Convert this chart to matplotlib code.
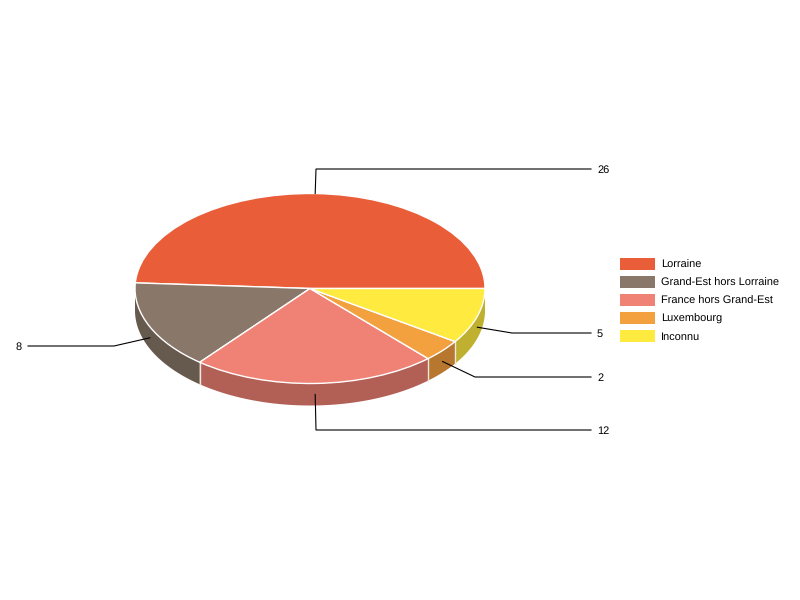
import numpy as np
import matplotlib
matplotlib.use("Agg")
import matplotlib.pyplot as plt
from matplotlib.patches import Patch

labels = ["Lorraine", "Grand-Est hors Lorraine", "France hors Grand-Est", "Luxembourg", "Inconnu"]
values = [26, 8, 12, 2, 5]
colors = ["#E95E38", "#89786A", "#EF8274", "#F3A03F", "#FFEA40"]
side_colors = ["#AD4629", "#66594E", "#B25F56", "#B8772F", "#BFB030"]

# pie geometry in pixels
CX, CY = 310, 288.5
RX, RY = 175, 95
DEPTH = 22

# elbow and end of each leader line, pixels
elbows = [(316, 169), (114, 346), (316, 430), (475, 377), (512, 333)]
line_ends = [591, 28, 591, 591, 591]

plt.rcParams["font.family"] = ["Liberation Sans", "DejaVu Sans"]
plt.rcParams["text.hinting"] = "no_hinting"
plt.rcParams["text.hinting_factor"] = 1

fig = plt.figure(figsize=(8, 6), dpi=100)
ax = fig.add_axes([0, 0, 1, 1])

wedges, _ = ax.pie(values, colors=colors, startangle=0, counterclock=True, radius=1,
                   wedgeprops={"edgecolor": "white", "linewidth": 1.0, "zorder": 5})
ax.set_aspect("auto")
ax.set_xlim(-CX / RX, (800 - CX) / RX)
ax.set_ylim(-(600 - CY) / RY, CY / RY)

depth = DEPTH / RY


def to_data(px, py):
    return (px - CX) / RX, (CY - py) / RY


# side walls, only the lower half of the rim shows
for i, w in enumerate(wedges):
    a0 = max(w.theta1, 180)
    a1 = min(w.theta2, 360)
    if a1 <= a0:
        continue
    t = np.radians(np.linspace(a0, a1, 80))
    x = np.cos(t)
    y = np.sin(t)
    ax.fill(np.r_[x, x[::-1]], np.r_[y, y[::-1] - depth], facecolor=side_colors[i],
            edgecolor="none", zorder=2)
    # pale seam at the slice boundaries facing the viewer
    if i < len(values) - 1:
        ax.plot([x[-1], x[-1]], [y[-1], y[-1] - depth], color="#EFE8E0", lw=1.0, zorder=3)

# leader lines start on the rim at the middle of each slice
total = sum(values)
start = 0
for i, v in enumerate(values):
    mid = np.radians(start + v / total * 180)
    start += v / total * 360
    sx = np.cos(mid)
    sy = np.sin(mid)
    if sy < 0:
        sy -= depth / 2
    ex, ey = to_data(*elbows[i])
    fx, _ = to_data(line_ends[i], elbows[i][1])
    ax.plot([sx, ex, fx], [sy, ey, ey], color="black", lw=0.8, zorder=6, solid_joinstyle="miter")
    if line_ends[i] > CX:
        tx, _ = to_data(line_ends[i] + 6, 0)
        ha = "left"
    else:
        tx, _ = to_data(line_ends[i] - 6, 0)
        ha = "right"
    _, ty = to_data(0, elbows[i][1] + 0.7)
    ax.text(tx, ty, str(v), ha=ha, va="center", fontsize=8, color="black", zorder=7)

handles = [Patch(facecolor=c, edgecolor="none") for c in colors]
fig.legend(handles, labels, loc="upper left", bbox_to_anchor=(620 / 800, 1 - 258 / 600),
           borderaxespad=0, borderpad=0, frameon=False, fontsize=8,
           handlelength=3.15, handleheight=1.285, handletextpad=0.57, labelspacing=0.54)

fig.savefig("out.png", dpi=100)
plt.close(fig)
